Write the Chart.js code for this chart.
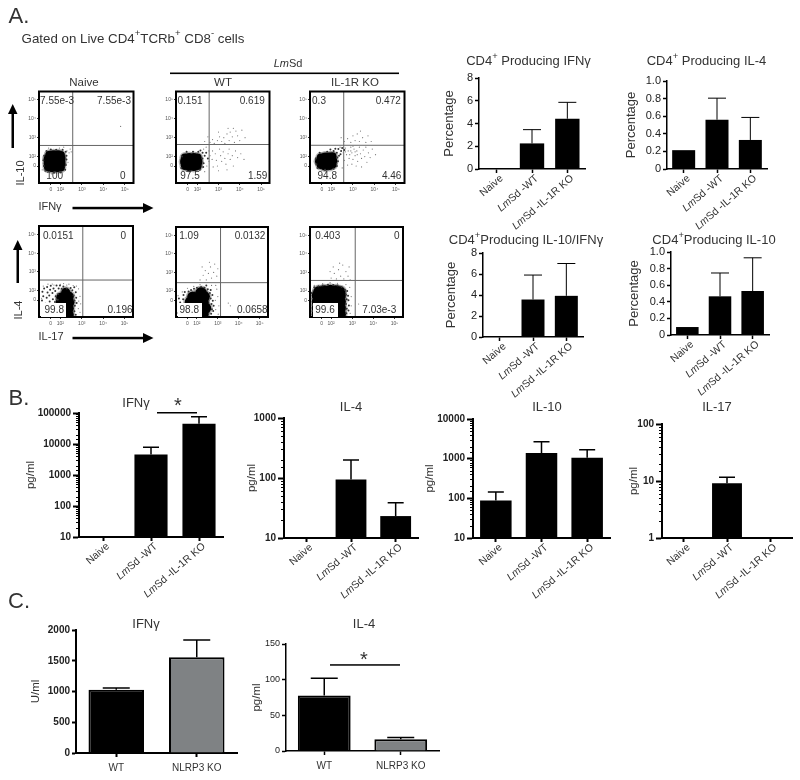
<!DOCTYPE html>
<html>
<head>
<meta charset="utf-8" />
<title>Cytokine panels</title>
<script src="https://cdn.jsdelivr.net/npm/chart.js@4"></script>
<style>
  html, body { margin: 0; padding: 0; background: #fff; }
  #page { position: relative; width: 800px; height: 780px; overflow: hidden; font-family: "Liberation Sans", Arial, sans-serif; color: #333; }
  #page canvas { position: absolute; }
  .txt { position: absolute; white-space: nowrap; transform: translate(-50%, -50%); z-index: 3; line-height: 1; }
  .txt sup { font-size: 0.72em; line-height: 0; position: relative; top: -0.1em; vertical-align: super; }
  .rot { transform: translate(-50%, -50%) rotate(-90deg); }
  .box { position: absolute; background: #fff; z-index: 2; }
  svg { position: absolute; left: 0; top: 0; z-index: 3; }
</style>
</head>
<body>
<div id="page">
  <svg width="800" height="780">
    <g fill="#000" stroke="none">
      <rect x="11.5" y="112" width="2.5" height="36" /><polygon points="12.7,104 8,114 17.5,114" />
      <rect x="16.5" y="248" width="2.5" height="35" /><polygon points="17.7,240 13,250 22.5,250" />
      <rect x="72.5" y="206.8" width="72" height="2.5" /><polygon points="153.5,208 143,203 143,213" />
      <rect x="72.5" y="336.8" width="72" height="2.5" /><polygon points="153.5,338 143,333 143,343" />
      <rect x="170" y="72.5" width="229" height="1.6" />
      <rect x="157" y="412" width="40" height="1.5" />
      <rect x="330" y="664.2" width="70" height="1.5" />
    </g>
  </svg>
</div>
<script>
const page = document.getElementById('page');
Chart.defaults.animation = false;
Chart.defaults.font.family = '"Liberation Sans", Arial, sans-serif';
Chart.defaults.color = '#333';

const groupLabels = ['Naive', 'LmSd -WT', 'LmSd -IL-1R KO'];
const nlrpLabels = ['WT', 'NLRP3 KO'];
const flowTicks = [1.55, 2, 3, 4, 5];
const flowTickText = ['0', '10²', '10³', '10⁴', '10⁵'];
const flowTicksY = [1.5, 2, 3, 4, 5];

// panel A bars, percentages
const pctIfn = [0.05, 2.25, 4.42];
const pctIfnTop = [null, 3.46, 5.86];
const pctIl4 = [0.214, 0.56, 0.33];
const pctIl4Top = [null, 0.805, 0.586];
const pctIl10Ifn = [0, 3.57, 3.92];
const pctIl10IfnTop = [null, 5.9, 7.0];
const pctIl10 = [0.096, 0.466, 0.53];
const pctIl10Top = [null, 0.747, 0.93];

// panel B bars, pg/ml
const ifnPg = [10, 4600, 45000];
const ifnPgTop = [null, 7800, 76000];
const il4Pg = [10, 94, 23.2];
const il4PgTop = [null, 200, 38.6];
const il10Pg = [88, 1380, 1050];
const il10PgTop = [145, 2670, 1680];
const il17Pg = [1, 9.1, 1];
const il17PgTop = [null, 11.6, null];

// panel C bars
const nlrpIfn = [1030, 1558];
const nlrpIfnTop = [1057, 1837];
const nlrpIl4 = [77.8, 16.3];
const nlrpIl4Top = [102, 19];

// flow plots, x and y in decades of the biexponential axes
const naiveIfnCore = [[1.42,1.42],[1.62,1.38],[1.84,1.38],[2.02,1.42],[1.4,1.65],[1.62,1.65],[1.84,1.65],[2.05,1.65],[1.4,1.9],[1.62,1.9],[1.84,1.9],[2.05,1.9],[1.48,2.1],[1.68,2.12],[1.88,2.12],[2.02,2.08]];
const naiveIfnHaze = [[1.22,1.5],[1.2,1.8],[1.24,2.05],[1.35,2.3],[1.55,2.38],[1.8,2.36],[2.1,2.36],[2.25,2.25],[2.28,2.05],[2.28,1.85],[2.25,1.55],[2.22,1.3],[1.3,1.25],[1.7,1.14],[2,1.16]];
const naiveIfnDots = [[2.45,2.4],[2.3,2.3],[2.15,2.5],[1.95,2.45],[2.4,2.2],[2.35,1.7],[2.5,2.25],[1.45,2.45],[1.15,1.3],[1.6,1.08],[4.8,3.6]];
const wtIfnCore = [[1.42,1.5],[1.62,1.45],[1.84,1.45],[2.02,1.5],[1.38,1.72],[1.62,1.72],[1.84,1.72],[2.06,1.72],[1.42,1.95],[1.62,1.98],[1.84,1.98],[2.02,1.95]];
const wtIfnHaze = [[2.25,1.9],[2.3,1.65],[2.25,2.2],[2.05,2.25],[1.8,2.25],[2.42,2.2],[2.35,2.05],[2.28,1.45],[2.5,1.9],[2.15,2.32],[1.5,2.25],[1.28,2.0],[1.25,1.4],[2.12,1.3],[1.65,1.22]];
const wtIfnDots = [[2.3,2.4],[2.42,2.5],[2.55,2.3],[2.6,2.05],[2.7,1.85],[2.72,2.3],[2.85,2.15],[2.9,1.8],[2.95,1.5],[3.05,2.4],[3.1,2.05],[3.15,1.75],[3.22,2.25],[3.3,1.9],[3.35,1.6],[3.45,2.15],[3.5,2.4],[3.55,1.85],[3.65,2.05],[3.7,1.5],[3.8,2.3],[3.9,1.95],[4.05,2.15],[4.2,1.85],[2.45,1.5],[2.55,1.75],[2.75,1.45],[3.0,1.25],[3.4,1.3],[2.35,1.2],
  [2.6,2.75],[2.72,2.9],[2.8,2.7],[2.95,2.85],[3.05,3.05],[3.15,2.8],[3.25,3.0],[3.3,2.7],[3.4,3.2],[3.5,2.85],[3.55,3.3],[3.65,3.05],[3.75,2.75],[3.82,3.35],[3.9,3.1],[4.0,2.85],[4.1,3.4],[3.45,3.5],[3.7,3.5],[4.25,3.0],[2.5,3.05],[3.0,3.3],[2.35,2.8]];
const koIfnCore = [[1.5,1.55],[1.7,1.48],[1.9,1.5],[2.05,1.58],[1.42,1.75],[1.66,1.75],[1.88,1.75],[2.08,1.78],[1.5,1.95],[1.7,2.0],[1.9,2.0],[2.05,2.02]];
const koIfnHaze = [[2.25,2.2],[2.1,2.3],[2.35,2.05],[2.3,1.75],[2.45,2.3],[1.8,2.25],[2.6,2.35],[2.28,1.95],[2.18,2.42],[2.32,2.4],[2.42,2.12],[2.25,1.5],[1.95,2.38],[2.5,2.45],[1.3,1.6],[1.28,1.9],[1.45,2.2],[1.35,1.4],[2.1,1.35],[1.7,1.3]];
const koIfnDots = [[2.4,2.5],[2.55,2.2],[2.65,2.45],[2.7,2.1],[2.78,2.3],[2.82,1.9],[2.9,2.5],[2.95,2.2],[3.0,1.85],[3.05,2.4],[3.1,2.05],[3.18,2.3],[3.22,1.75],[3.3,2.5],[3.35,2.15],[3.4,1.9],[3.48,2.35],[3.55,2.0],[3.6,2.5],[3.65,1.7],[3.72,2.2],[3.8,1.95],[3.9,2.4],[4.05,2.1],[2.6,1.8],[2.75,1.55],[2.95,1.6],[3.15,1.5],[3.4,1.45],[2.5,1.4],[2.65,2.25],[2.85,2.1],[3.0,2.55],[2.9,2.3],[3.2,2.1],[3.1,2.25],
  [2.6,2.8],[2.75,2.95],[2.9,2.75],[3.0,3.1],[3.1,2.85],[3.2,3.2],[3.3,2.8],[3.45,3.0],[3.6,2.75],[3.7,3.1],[2.45,3.0],[3.35,3.35],[3.85,2.8]];
const naiveIlCore = [[2.2,0.72],[2.42,0.72],[2.2,1.05],[2.42,1.05],[2.25,1.38],[2.45,1.38],[2.22,1.7],[2.42,1.7],[2.25,1.92],[2.02,1.65],[2.0,1.4]];
const naiveIlHaze = [[1.15,0.95],[1.17,1.2],[1.14,1.48],[1.2,1.7],[1.16,1.95],[1.24,2.12],[1.3,1.3],[1.34,0.92],[1.36,1.62],[1.4,1.9],[1.38,2.2],[1.46,1.12],[1.5,1.42],[1.48,1.74],[1.52,2.05],[1.55,2.26],[1.6,0.95],[1.62,1.28],[1.65,1.55],[1.63,1.88],[1.68,2.12],[1.72,1.08],[1.75,1.4],[1.78,1.7],[1.76,1.98],[1.82,2.28],[1.84,0.9],[1.86,1.22],[1.88,1.52],[1.9,1.82],[1.92,2.12],[1.95,1.02],[1.98,2.28],[2.06,2.1],[2.14,2.22],[2.3,2.12],[2.48,2.15],[2.56,2.02],[2.62,1.75],[2.66,1.48],[2.68,1.2],[2.66,0.9],[2.72,0.72],[2.76,1.35],[2.74,1.62],[2.72,1.92],[2.65,2.18]];
const naiveIlDots = [[1.12,1.6],[1.2,2.25],[1.42,2.35],[1.7,2.3],[2,2.34],[2.3,2.3],[2.6,2.28],[2.85,2.1],[2.92,1.7],[2.95,1.3],[2.92,0.85],[1.62,2.36],[2.15,2.38],[2.75,2.25],[2.86,1.45],[2.84,1.05],[2.4,2.35]];
const wtIlCore = [[1.7,0.75],[2.0,0.75],[2.3,0.75],[1.7,1.08],[2.0,1.08],[2.3,1.08],[2.42,1.08],[1.68,1.4],[2.0,1.4],[2.3,1.4],[1.8,1.68],[2.1,1.7],[2.36,1.7],[2.2,1.92]];
const wtIlHaze = [[1.12,0.82],[1.16,1.1],[1.2,1.38],[1.14,1.6],[1.28,0.95],[1.3,1.25],[1.34,1.55],[1.36,1.78],[1.42,1.95],[1.6,1.98],[1.72,2.05],[1.86,2.12],[2.0,2.18],[2.2,2.22],[2.36,2.18],[2.52,2.1],[2.62,1.9],[2.66,1.6],[2.7,1.3],[2.72,1.02],[2.68,0.78],[2.78,0.92],[2.8,1.2],[2.76,1.48],[2.74,1.78],[2.66,2.05],[2.45,2.3]];
const wtIlDots = [[1.1,1.75],[1.3,1.95],[1.55,2.15],[1.85,2.25],[2.15,2.35],[2.7,2.3],[2.95,2.1],[3.0,1.7],[3.05,1.2],[3.02,0.75],[2.9,2.3],[2.88,1.5],[2.9,1.0],[2.15,2.6],[2.3,2.85],[2.45,2.6],[2.4,3.1],[2.55,2.95],[2.65,3.3],[2.7,2.7],[2.8,3.0],[2.85,3.45],[2.95,2.8],[2.6,3.55],[2.25,3.3],[3.0,3.2],[3.5,1.35],[3.6,1.2]];
const koIlCore = [[1.34,0.75],[1.64,0.75],[1.94,0.75],[2.26,0.75],[2.44,0.75],[1.34,1.08],[1.64,1.08],[1.94,1.08],[2.26,1.08],[2.44,1.08],[1.34,1.42],[1.64,1.42],[1.94,1.42],[2.26,1.42],[2.44,1.42],[1.34,1.76],[1.64,1.76],[1.94,1.76],[2.26,1.76],[2.44,1.76],[1.42,1.98],[1.68,2.02],[1.96,2.04],[2.22,2.02],[2.42,1.96]];
const koIlHaze = [[2.72,0.8],[2.74,1.05],[2.7,1.3],[2.74,1.55],[2.7,1.8],[2.66,2.05],[2.5,2.22],[2.3,2.3],[2.1,2.32],[1.85,2.34],[1.6,2.3],[1.4,2.26],[1.2,2.2],[1.08,1.9],[2.82,0.95],[2.84,1.22],[2.82,1.5],[2.8,1.75],[2.76,2.0]];
const koIlDots = [[2.95,1.2],[2.95,1.7],[2.9,0.8],[2.88,2.2],[1.2,2.3],[1.6,2.4],[1.95,2.45],[2.3,2.42],[2.7,2.35],[2.0,2.7],[2.15,2.95],[2.25,2.65],[2.35,3.15],[2.45,2.8],[2.55,3.4],[2.6,2.65],[2.7,3.05],[2.8,2.8],[2.85,3.3],[2.4,3.5],[2.1,3.3],[1.95,3.05],[2.9,2.6],[3.3,1.3]];

function addCanvas(left, top, width, height) {
  const canvas = document.createElement('canvas');
  canvas.width = width;
  canvas.height = height;
  canvas.style.left = `${left}px`;
  canvas.style.top = `${top}px`;
  canvas.style.width = `${width}px`;
  canvas.style.height = `${height}px`;
  page.appendChild(canvas);
  return canvas;
}

function addText(html, x, y, size, extra = '') {
  const el = document.createElement('div');
  el.className = `txt ${extra}`;
  el.style.left = `${x}px`;
  el.style.top = `${y}px`;
  el.style.fontSize = `${size}px`;
  el.innerHTML = html;
  page.appendChild(el);
}

function addBox(x, y, w, h) {
  const el = document.createElement('div');
  el.className = 'box';
  el.style.cssText = `left:${x}px;top:${y}px;width:${w}px;height:${h}px`;
  page.appendChild(el);
}

const isDecade = (v) => Math.abs(Math.log10(v) - Math.round(Math.log10(v))) < 1e-6;

// top-only error bars, drawn on the value scale
const errorBars = {
  id: 'errorBars',
  afterDatasetsDraw(chart, args, opts) {
    const { ctx, scales } = chart;
    const bars = chart.getDatasetMeta(0).data;
    ctx.save();
    ctx.strokeStyle = '#000';
    ctx.lineWidth = opts.width;
    opts.tops.forEach((top, i) => {
      if (top === null) return;
      const y = scales.y.getPixelForValue(top);
      ctx.beginPath();
      ctx.moveTo(bars[i].x, bars[i].y);
      ctx.lineTo(bars[i].x, y);
      ctx.moveTo(bars[i].x - opts.cap / 2, y);
      ctx.lineTo(bars[i].x + opts.cap / 2, y);
      ctx.stroke();
    });
    ctx.restore();
  }
};

// slanted category labels with the italic "Lm" prefix
const slantLabels = {
  id: 'slantLabels',
  afterDraw(chart, args, opts) {
    if (!opts.on) return;
    const { ctx, scales } = chart;
    const axisY = chart.chartArea.bottom;
    ctx.save();
    ctx.fillStyle = '#333';
    ctx.textBaseline = 'middle';
    chart.data.labels.forEach((label, i) => {
      const italic = label.startsWith('Lm') ? 'Lm' : '';
      const rest = label.slice(italic.length);
      const font = Chart.defaults.font.family;
      ctx.font = `italic 10.5px ${font}`;
      const w1 = ctx.measureText(italic).width;
      ctx.font = `10.5px ${font}`;
      const w2 = ctx.measureText(rest).width;
      ctx.save();
      ctx.translate(scales.x.getPixelForTick(i) + 5, axisY + 8);
      ctx.rotate(-41 * Math.PI / 180);
      ctx.textAlign = 'left';
      ctx.font = `italic 10.5px ${font}`;
      ctx.fillText(italic, -w1 - w2, 0);
      ctx.font = `10.5px ${font}`;
      ctx.fillText(rest, -w2, 0);
      ctx.restore();
    });
    ctx.restore();
  }
};

// short minor ticks on the log axes
const minorTicks = {
  id: 'minorTicks',
  afterDraw(chart) {
    const y = chart.scales.y;
    if (y.type !== 'logarithmic') return;
    const { ctx } = chart;
    ctx.save();
    ctx.strokeStyle = '#000';
    ctx.lineWidth = 1;
    y.ticks.forEach((tick) => {
      if (isDecade(tick.value)) return;
      const py = Math.round(y.getPixelForValue(tick.value)) + 0.5;
      ctx.beginPath();
      ctx.moveTo(y.right - 3, py);
      ctx.lineTo(y.right, py);
      ctx.stroke();
    });
    ctx.restore();
  }
};

const flowFrame = {
  id: 'flowFrame',
  afterDraw(chart, args, opts) {
    if (!opts.on) return;
    const { ctx, chartArea: a } = chart;
    ctx.save();
    ctx.strokeStyle = '#000';
    ctx.lineWidth = 2;
    ctx.strokeRect(a.left, a.top, a.right - a.left, a.bottom - a.top);
    ctx.restore();
  }
};

function barChart(cfg) {
  const left = Math.round(cfg.titleX - 8);
  const top = cfg.top - 20;
  const below = cfg.flat ? 30 : 66;
  const canvas = addCanvas(left, top, cfg.right + 8 - left, cfg.bottom + below - top);
  const yTicks = cfg.log
    ? { autoSkip: false, padding: 2, color: '#222', font: { size: cfg.tickSize, weight: cfg.tickWeight },
        callback: (v) => (isDecade(v) ? String(v) : '') }
    : { stepSize: cfg.step, padding: 2, color: '#222', font: { size: cfg.tickSize, weight: cfg.tickWeight },
        callback: (v) => (cfg.decimals && v ? v.toFixed(cfg.decimals) : String(v)) };
  return new Chart(canvas, {
    type: 'bar',
    data: {
      labels: cfg.labels,
      datasets: [{
        data: cfg.values,
        backgroundColor: cfg.colors || '#000',
        borderColor: '#000',
        borderWidth: cfg.colors ? 2 : 0,
        barPercentage: 0.69,
        categoryPercentage: 1
      }]
    },
    options: {
      responsive: false,
      layout: { padding: { top: 20, right: 8, left: 0, bottom: 0 } },
      plugins: {
        legend: { display: false },
        tooltip: { enabled: false },
        errorBars: { tops: cfg.tops, cap: cfg.cap, width: cfg.errWidth },
        slantLabels: { on: !cfg.flat }
      },
      scales: {
        x: {
          offset: true,
          grid: { offset: false, drawOnChartArea: false, tickLength: 4, tickColor: '#000', tickWidth: cfg.axisWidth },
          border: { color: '#000', width: cfg.axisWidth },
          ticks: { display: !!cfg.flat, maxRotation: 0, padding: 5, color: '#333', font: { size: 10 } },
          afterFit: (scale) => { scale.height = below; }
        },
        y: {
          type: cfg.log ? 'logarithmic' : 'linear',
          min: cfg.min,
          max: cfg.max,
          title: { display: true, text: cfg.yTitle, color: '#333', padding: 0, font: { size: cfg.titleSize } },
          grid: {
            drawOnChartArea: false,
            tickLength: cfg.log ? 6 : 4,
            tickColor: (c) => (cfg.log && !isDecade(c.tick.value) ? 'rgba(0,0,0,0)' : '#000'),
            tickWidth: cfg.axisWidth
          },
          border: { color: '#000', width: cfg.axisWidth },
          ticks: yTicks,
          afterFit: (scale) => { scale.width = cfg.axisX - left; }
        }
      }
    },
    plugins: [errorBars, slantLabels, minorTicks]
  });
}

function toPoints(pairs) {
  return pairs.map(([x, y]) => ({ x, y }));
}

function flowChart(cfg) {
  const canvas = addCanvas(cfg.l - 20, cfg.t - 5, cfg.r - cfg.l + 25, cfg.b - cfg.t + 20);
  const coreSize = cfg.coreSize || 4;
  const cloud = (pairs, color, radius) => ({ data: toPoints(pairs), pointRadius: radius, pointBackgroundColor: color, pointBorderWidth: 0, showLine: false });
  const gate = (pairs) => ({ data: toPoints(pairs), showLine: true, pointRadius: 0, borderColor: '#666', borderWidth: 1 });
  return new Chart(canvas, {
    type: 'scatter',
    data: {
      datasets: [
        cloud(cfg.dots, '#777', 0.6),
        cloud(cfg.haze, '#333', 1),
        cloud(cfg.core, 'rgba(0,0,0,0.3)', coreSize + 1.5),
        cloud(cfg.core, '#000', coreSize),
        gate([[cfg.gx, 0.6], [cfg.gx, 5.45]]),
        gate([[1, cfg.gy], [5.4, cfg.gy]])
      ]
    },
    options: {
      responsive: false,
      layout: { padding: { top: 5, right: 5, left: 0, bottom: 0 } },
      plugins: { legend: { display: false }, tooltip: { enabled: false }, flowFrame: { on: true } },
      scales: {
        x: {
          type: 'linear',
          min: 1,
          max: 5.4,
          afterBuildTicks: (s) => { s.ticks = flowTicks.map((value) => ({ value })); },
          afterFit: (s) => { s.height = 15; },
          grid: { drawOnChartArea: false, tickLength: 2, tickColor: '#333' },
          border: { display: false },
          ticks: { autoSkip: false, maxRotation: 0, padding: 2, font: { size: 5 }, color: '#555',
            callback: (v) => flowTickText[flowTicks.indexOf(v)] }
        },
        y: {
          type: 'linear',
          min: 0.6,
          max: 5.45,
          afterBuildTicks: (s) => { s.ticks = flowTicksY.map((value) => ({ value })); },
          afterFit: (s) => { s.width = 20; },
          grid: { drawOnChartArea: false, tickLength: 2, tickColor: '#333' },
          border: { display: false },
          ticks: { autoSkip: false, padding: 1, font: { size: 5 }, color: '#555',
            callback: (v) => flowTickText[flowTicksY.indexOf(v)] }
        }
      }
    },
    plugins: [flowFrame]
  });
}

// panel A, flow plots
flowChart({ l: 39, r: 134, t: 91, b: 183, gx: 2.57, gy: 2.59, core: naiveIfnCore, haze: naiveIfnHaze, dots: naiveIfnDots });
flowChart({ l: 176, r: 270, t: 91, b: 183, gx: 2.56, gy: 2.64, core: wtIfnCore, haze: wtIfnHaze, dots: wtIfnDots });
flowChart({ l: 310, r: 405, t: 91, b: 183, gx: 2.57, gy: 2.6, core: koIfnCore, haze: koIfnHaze, dots: koIfnDots });
flowChart({ l: 39, r: 134, t: 225, b: 317, gx: 3.05, gy: 2.57, core: naiveIlCore, haze: naiveIlHaze, dots: naiveIlDots, coreSize: 4.5 });
flowChart({ l: 176, r: 270, t: 225, b: 317, gx: 3.13, gy: 2.45, core: wtIlCore, haze: wtIlHaze, dots: wtIlDots, coreSize: 5.5 });
flowChart({ l: 310, r: 405, t: 225, b: 317, gx: 3.14, gy: 2.57, core: koIlCore, haze: koIlHaze, dots: koIlDots, coreSize: 5.5 });

// panel A, percentages
const pctStyle = { labels: groupLabels, yTitle: 'Percentage', titleSize: 13, tickSize: 11, tickWeight: 'normal', cap: 18, errWidth: 1, axisWidth: 1.5, min: 0 };
barChart({ ...pctStyle, values: pctIfn, tops: pctIfnTop, titleX: 450, axisX: 479, right: 585, top: 78, bottom: 169, max: 8, step: 2 });
barChart({ ...pctStyle, values: pctIl4, tops: pctIl4Top, titleX: 632, axisX: 667, right: 767, top: 81, bottom: 169, max: 1, step: 0.2, decimals: 1 });
barChart({ ...pctStyle, values: pctIl10Ifn, tops: pctIl10IfnTop, titleX: 452, axisX: 483, right: 583, top: 253, bottom: 337, max: 8, step: 2 });
barChart({ ...pctStyle, values: pctIl10, tops: pctIl10Top, titleX: 635, axisX: 671, right: 769, top: 252, bottom: 335, max: 1, step: 0.2, decimals: 1 });

// panel B, cytokines on log axes
const logStyle = { labels: groupLabels, log: true, yTitle: 'pg/ml', titleSize: 11.5, tickSize: 10, tickWeight: 'bold', cap: 16, errWidth: 1.5, axisWidth: 2 };
barChart({ ...logStyle, values: ifnPg, tops: ifnPgTop, titleX: 32, axisX: 79, right: 223, top: 413, bottom: 537, min: 10, max: 100000 });
barChart({ ...logStyle, values: il4Pg, tops: il4PgTop, titleX: 253, axisX: 284, right: 418, top: 418, bottom: 538, min: 10, max: 1000 });
barChart({ ...logStyle, values: il10Pg, tops: il10PgTop, titleX: 431, axisX: 473, right: 610, top: 419, bottom: 538, min: 10, max: 10000 });
barChart({ ...logStyle, values: il17Pg, tops: il17PgTop, titleX: 635, axisX: 662, right: 792, top: 424, bottom: 538, min: 1, max: 100 });

// panel C
const nlrpColors = ['#000', '#7f8284'];
barChart({ labels: nlrpLabels, flat: true, colors: nlrpColors, values: nlrpIfn, tops: nlrpIfnTop, yTitle: 'U/ml', titleSize: 11.5, tickSize: 10, tickWeight: 'bold', cap: 27, errWidth: 1.5, axisWidth: 2, titleX: 37, axisX: 76, right: 237, top: 630, bottom: 753, min: 0, max: 2000, step: 500 });
barChart({ labels: nlrpLabels, flat: true, colors: nlrpColors, values: nlrpIl4, tops: nlrpIl4Top, yTitle: 'pg/ml', titleSize: 11.5, tickSize: 9, tickWeight: 'normal', cap: 27, errWidth: 1.5, axisWidth: 1.5, titleX: 258, axisX: 286, right: 439, top: 644, bottom: 751, min: 0, max: 150, step: 50 });

// headings and quadrant numbers
addText('A.', 19, 16, 22);
addText('B.', 19, 398, 22);
addText('C.', 19, 601, 22);
addText('Gated on Live CD4<sup>+</sup>TCRb<sup>+</sup> CD8<sup>-</sup> cells', 133, 38.5, 13.3);
addText('<i>Lm</i>Sd', 288, 63, 11);
addText('Naive', 84, 83, 11.5);
addText('WT', 223, 83, 11.5);
addText('IL-1R KO', 355, 83, 11.5);

addText('IL-10', 20, 173, 11, 'rot');
addText('IL-4', 18, 310, 11, 'rot');
addText('IFNγ', 50, 206, 11);
addText('IL-17', 51, 336, 11);

addBox(41, 303, 25, 14);
addBox(178, 303, 24, 14);
addBox(313, 303, 25, 14);

const quadrants = [
  ['7.55e-3', 57, 100.7], ['7.55e-3', 114, 100.7], ['100', 54.7, 175.7], ['0', 122.7, 175.7],
  ['0.151', 190, 100.7], ['0.619', 252.3, 100.7], ['97.5', 190, 175.7], ['1.59', 257.7, 175.7],
  ['0.3', 319, 100.7], ['0.472', 388.3, 100.7], ['94.8', 327.3, 175.7], ['4.46', 391.7, 175.7],
  ['0.0151', 58.3, 235.7], ['0', 123.3, 235.7], ['99.8', 54.3, 310], ['0.196', 120, 310],
  ['1.09', 189, 235.7], ['0.0132', 250, 235.7], ['98.8', 189.3, 310], ['0.0658', 252.3, 310],
  ['0.403', 327.7, 235.7], ['0', 396.7, 235.7], ['99.6', 325, 310], ['7.03e-3', 379.3, 310]
];
quadrants.forEach(([text, x, y]) => addText(text, x, y, 10));

addText('CD4<sup>+</sup> Producing IFNγ', 528.5, 60, 13);
addText('CD4<sup>+</sup> Producing IL-4', 706.5, 60, 13);
addText('CD4<sup>+</sup>Producing IL-10/IFNγ', 526, 239, 13);
addText('CD4<sup>+</sup>Producing IL-10', 714, 239, 13);

addText('IFNγ', 136, 402, 13);
addText('IL-4', 351, 406, 13);
addText('IL-10', 547, 406, 13);
addText('IL-17', 717, 406, 13);
addText('IFNγ', 146, 623, 13);
addText('IL-4', 364, 623, 13);
addText('*', 178, 405, 20);
addText('*', 364, 659, 20);
</script>
</body>
</html>
